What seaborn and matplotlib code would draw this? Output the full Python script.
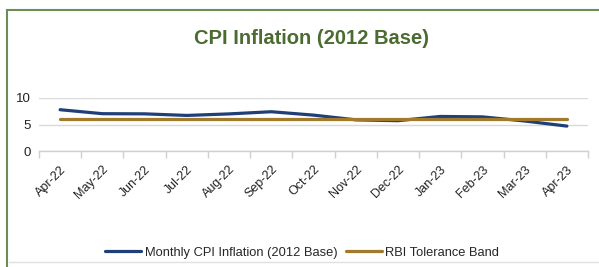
import matplotlib
matplotlib.use("Agg")
import matplotlib.pyplot as plt
import seaborn as sns
import pandas as pd
import numpy as np
from matplotlib.patches import Rectangle
from matplotlib.lines import Line2D

months = ["Apr-22", "May-22", "Jun-22", "Jul-22", "Aug-22", "Sep-22", "Oct-22",
          "Nov-22", "Dec-22", "Jan-23", "Feb-23", "Mar-23", "Apr-23"]
cpi = [7.79, 7.04, 7.01, 6.71, 7.00, 7.41, 6.77, 5.88, 5.72, 6.52, 6.44, 5.66, 4.70]
band = [6, 6, 6, 6, 6, 6, 6, 6, 6, 6, 6, 6, 6]
yticks = [0, 5, 10]

sns.set_theme(style="white")
plt.rcParams['font.family'] = ['Liberation Sans', 'DejaVu Sans']

df = pd.DataFrame({"x": np.arange(len(months)), "cpi": cpi, "band": band})

fig = plt.figure(figsize=(5.99, 2.67), dpi=100)
ax = fig.add_axes([39/599, 1-151/267, (588-39)/599, (151-98)/267])

blue = "#203f78"
gold = "#a27a2c"
sns.lineplot(data=df, x="x", y="cpi", ax=ax, color=blue, linewidth=2.3,
             label="Monthly CPI Inflation (2012 Base)", legend=False)
sns.lineplot(data=df, x="x", y="band", ax=ax, color=gold, linewidth=2.3,
             label="RBI Tolerance Band", legend=False)

ax.set_xlim(-0.5, len(months)-0.5)
ax.set_ylim(0, 10)
ax.set_yticks(yticks)
ax.set_yticklabels([str(v) for v in yticks], fontsize=9.5, color="#222222")
ax.set_xticks(np.arange(len(months)))
ax.set_xticklabels(months, rotation=45, ha="right", rotation_mode="anchor",
                   fontsize=9, color="#222222")
ax.set_xticks(np.arange(len(months)+1)-0.5, minor=True)
ax.tick_params(axis="x", which="major", length=0, pad=9)
ax.tick_params(axis="x", which="minor", length=5, color="#d0d0d0", width=1, bottom=True)
ax.tick_params(axis="y", length=0, pad=6)
ax.set_xlabel("")
ax.set_ylabel("")
ax.grid(axis="y", color="#d9d9d9", linewidth=1)
for s in ["top", "right", "left"]:
    ax.spines[s].set_visible(False)
ax.spines["bottom"].set_color("#d0d0d0")
ax.spines["bottom"].set_linewidth(1)

# outer frame
fig.patches.append(Rectangle((7/599, -0.02), 1.0, 1-10/267+0.02, transform=fig.transFigure,
                             fill=False, edgecolor="#6e8b5a", linewidth=1.5))
fig.add_artist(Line2D([9/599, 1], [1-262/267, 1-262/267], transform=fig.transFigure,
                      color="#e0e0e0", linewidth=1))

fig.text(311/599, 1-38/267, "CPI Inflation (2012 Base)", ha="center", va="center",
         fontsize=14.5, fontweight="bold", color="#4b6b31",
         family=["Liberation Sans Narrow", "Liberation Sans", "DejaVu Sans"])

handles = [Line2D([0], [0], color=blue, linewidth=2.3),
           Line2D([0], [0], color=gold, linewidth=2.3)]
fig.legend(handles, ["Monthly CPI Inflation (2012 Base)", "RBI Tolerance Band"],
           loc="center", bbox_to_anchor=(302/599, 1-253/267), ncol=2, frameon=False,
           fontsize=9.3, handlelength=2.8, handletextpad=0.25, columnspacing=0.65)

fig.savefig("out.png", dpi=100)
